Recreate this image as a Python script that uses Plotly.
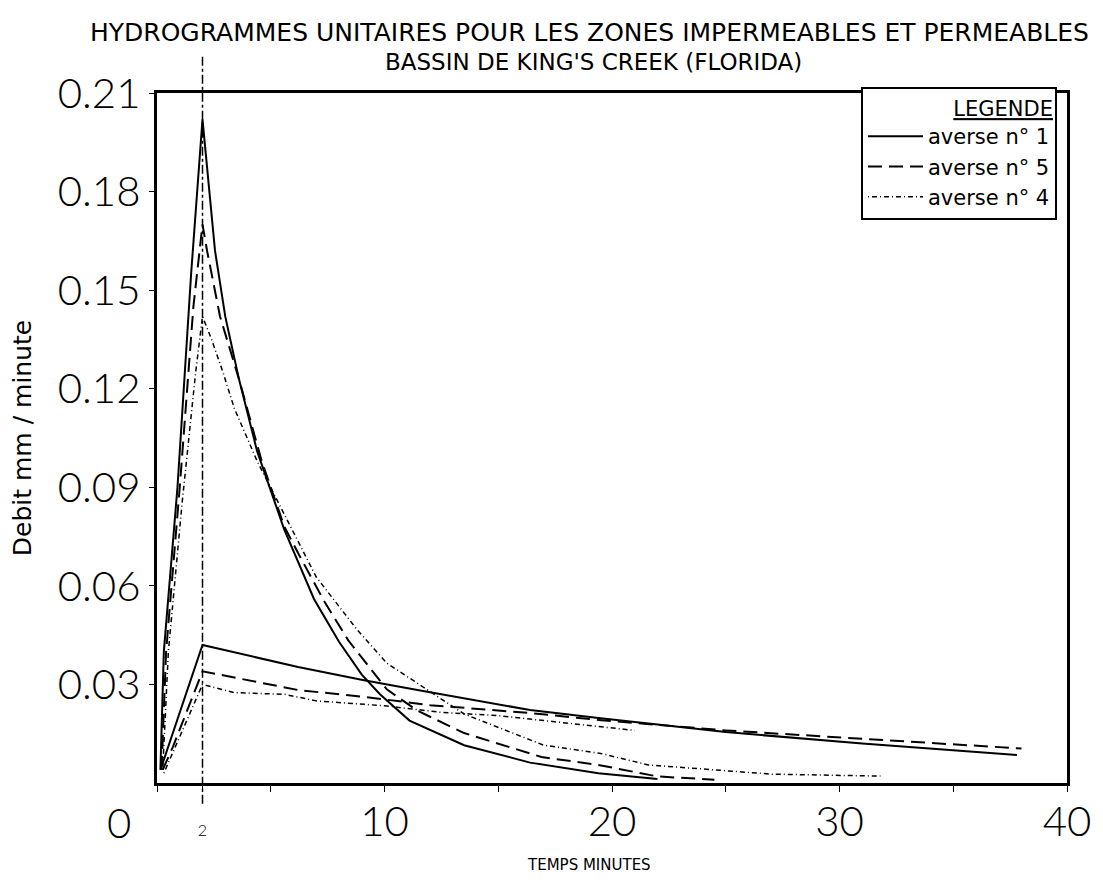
import plotly.graph_objects as go

# Zones imperméables (pic à 2 min)
t_imp_1 = [0.15, 0.3, 0.9, 1.5, 2.0, 2.55, 3.0, 3.6, 4.4, 5.0, 5.6, 6.9, 8.0, 9.0, 9.8, 11.1, 13.5, 16.4, 19.4, 22.0]
q_imp_1 = [0.004, 0.04, 0.09, 0.155, 0.202, 0.162, 0.142, 0.123, 0.101, 0.089, 0.077, 0.056, 0.043, 0.033, 0.027, 0.019, 0.0115, 0.0062, 0.003, 0.0012]

t_imp_5 = [0.2, 0.4, 1.0, 1.6, 2.0, 2.2, 2.77, 3.6, 4.6, 5.6, 6.2, 7.35, 8.4, 9.5, 10.1, 11.45, 13.5, 16.9, 19.4, 22.0, 24.5]
q_imp_5 = [0.004, 0.04, 0.09, 0.145, 0.170, 0.162, 0.142, 0.123, 0.098, 0.078, 0.07, 0.0553, 0.0435, 0.034, 0.0285, 0.022, 0.0152, 0.0079, 0.0055, 0.002, 0.001]

t_imp_4 = [0.25, 0.5, 1.1, 1.7, 2.0, 2.4, 2.9, 3.4, 4.4, 7.0, 8.8, 10.1, 13.5, 17.0, 19.5, 21.6, 27.0, 31.8]
q_imp_4 = [0.004, 0.04, 0.085, 0.125, 0.142, 0.135, 0.125, 0.114, 0.098, 0.0627, 0.0466, 0.0365, 0.021, 0.0115, 0.009, 0.0055, 0.0027, 0.0021]

# Zones perméables
t_per_1 = [0.2, 2.0, 6.2, 9.1, 11.45, 16.4, 19.4, 25.0, 31.0, 37.8]
q_per_1 = [0.005, 0.042, 0.0353, 0.0313, 0.0283, 0.0222, 0.0198, 0.0155, 0.012, 0.0085]

t_per_5 = [0.25, 0.7, 2.0, 6.2, 9.1, 12.0, 16.4, 19.4, 25.0, 31.0, 38.0]
q_per_5 = [0.004, 0.011, 0.034, 0.0283, 0.0262, 0.0237, 0.0213, 0.0192, 0.016, 0.0135, 0.0105]

t_per_4 = [0.3, 2.0, 3.4, 5.6, 7.0, 10.0, 12.5, 15.0, 17.0, 19.6, 21.0]
q_per_4 = [0.003, 0.030, 0.0275, 0.027, 0.025, 0.0235, 0.0215, 0.0205, 0.019, 0.017, 0.016]

series = [
    ("averse n° 1", t_imp_1, q_imp_1, t_per_1, q_per_1, "solid", 2),
    ("averse n° 5", t_imp_5, q_imp_5, t_per_5, q_per_5, "14px,7px", 2),
    ("averse n° 4", t_imp_4, q_imp_4, t_per_4, q_per_4, "1px,3px,5px,3px", 1.5),
]

x_ticks = [2, 10, 20, 30, 40]
x_labels = ["<span style='font-size:16px'>2</span>", "10", "20", "30", "40"]
y_ticks = [0.03, 0.06, 0.09, 0.12, 0.15, 0.18, 0.21]
y_labels = ["0.03", "0.06", "0.09", "0.12", "0.15", "0.18", "0.21"]

fig = go.Figure()
for name, ti, qi, tp, qp, dash, w in series:
    fig.add_trace(go.Scatter(x=ti, y=qi, mode="lines", name=name, legendgroup=name,
                             line=dict(color="black", width=w, dash=dash)))
    fig.add_trace(go.Scatter(x=tp, y=qp, mode="lines", name=name, legendgroup=name,
                             showlegend=False, line=dict(color="black", width=w, dash=dash)))

# pic à 2 minutes
fig.add_shape(type="line", x0=2, x1=2, xref="x", y0=-0.03, y1=1.055, yref="paper",
              line=dict(color="black", width=1.5, dash="dashdot"))

big = dict(family="Lato, Roboto, sans-serif", size=42, color="black", weight=300)
lettering = dict(family="DejaVu Sans", color="black")

fig.add_annotation(x=0, y=0, xref="x", yref="y", text="0", showarrow=False,
                   xanchor="right", yanchor="top", xshift=-24, yshift=-12, font=big)

fig.add_annotation(x=0.475, y=1.087, xref="paper", yref="paper", showarrow=False,
                   xanchor="center", yanchor="middle",
                   text="HYDROGRAMMES UNITAIRES POUR LES ZONES IMPERMEABLES ET PERMEABLES",
                   font=dict(size=25, **lettering))
fig.add_annotation(x=0.48, y=1.045, xref="paper", yref="paper", showarrow=False,
                   xanchor="center", yanchor="middle",
                   text="BASSIN DE KING'S CREEK (FLORIDA)",
                   font=dict(size=23, **lettering))
fig.add_annotation(x=0.475, y=-0.119, xref="paper", yref="paper", showarrow=False,
                   xanchor="center", yanchor="middle",
                   text="TEMPS MINUTES", font=dict(size=15, **lettering))

fig.update_layout(
    width=1103, height=884,
    paper_bgcolor="white", plot_bgcolor="white",
    margin=dict(l=149, r=44, t=85, b=109),
    xaxis=dict(range=[0, 40], showgrid=False, zeroline=False,
               showline=True, mirror=True, linecolor="black", linewidth=3,
               tickmode="array", tickvals=x_ticks, ticktext=x_labels,
               ticks="outside", ticklen=6, tickcolor="black", tickfont=big,
               ticklabelstandoff=-6,
               minor=dict(tickmode="linear", tick0=0, dtick=5, ticks="outside",
                          ticklen=6, tickcolor="black")),
    yaxis=dict(range=[0, 0.21], showgrid=False, zeroline=False,
               showline=True, mirror=True, linecolor="black", linewidth=3,
               tickmode="array", tickvals=y_ticks, ticktext=y_labels,
               ticks="outside", ticklen=5, tickcolor="black", tickfont=big,
               title=dict(text="Debit mm / minute", standoff=20,
                          font=dict(size=25, **lettering))),
    legend=dict(x=0.989, xanchor="right", y=1.009, yanchor="top",
                bgcolor="white", bordercolor="black", borderwidth=2,
                tracegroupgap=0, itemwidth=55,
                font=dict(size=21, **lettering),
                title=dict(text="<u>LEGENDE</u>", side="top right",
                           font=dict(size=21, **lettering))),
)

fig.write_html("out.html")
